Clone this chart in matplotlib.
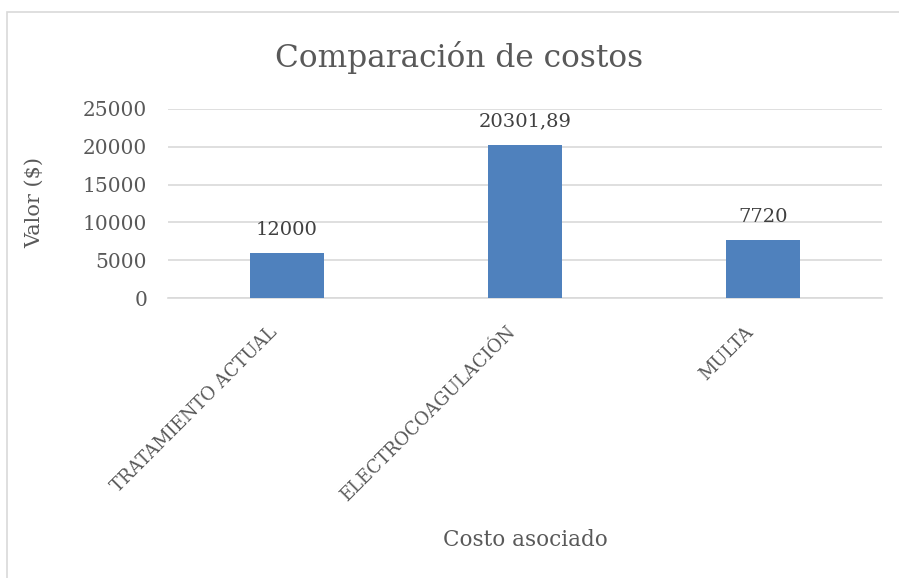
import matplotlib.pyplot as plt
import matplotlib.transforms as mtransforms
from matplotlib.patches import Rectangle

categorias = ['TRATAMIENTO ACTUAL', 'ELECTROCOAGULACIÓN', 'MULTA']
valores = [6000, 20301.89, 7720]
etiquetas = ['12000', '20301,89', '7720']
yticks = [0, 5000, 10000, 15000, 20000, 25000]

plt.rcParams['font.family'] = ['DejaVu Serif']
gris = '#595959'

fig = plt.figure(figsize=(8.99, 5.78), dpi=100)
# borde del área del gráfico
fig.patches.append(Rectangle((7 / 899, -0.1), 1.2, 1.1 - 12.5 / 578,
                             transform=fig.transFigure, fill=False,
                             edgecolor='#D9D9D9', linewidth=1.2))

ax = fig.add_axes([168 / 899, 1 - 298 / 578, 714 / 899, 189 / 578])
x = range(len(categorias))
ax.bar(x, valores, width=0.315, color='#4F81BD', zorder=3)

for xi, v, t in zip(x, valores, etiquetas):
    ax.annotate(t, (xi, v), xytext=(0, 10), textcoords='offset points',
                ha='center', va='bottom', fontsize=14, color='#404040')

ax.set_xlim(-0.5, 2.5)
ax.set_ylim(0, 25000)
ax.set_yticks(yticks)
ax.set_yticklabels([str(v) for v in yticks], fontsize=14.5, color=gris)
ax.set_xticks(list(x))
ax.set_xticklabels(categorias, rotation=45, ha='right', rotation_mode='anchor',
                   fontsize=13, color=gris)
ax.tick_params(axis='y', length=0, pad=15)
ax.tick_params(axis='x', length=0, pad=16)
# desplazar etiquetas rotadas un poco a la izquierda
desplaz = mtransforms.ScaledTranslation(-0.19, -0.03, fig.dpi_scale_trans)
for lbl in ax.get_xticklabels():
    lbl.set_transform(lbl.get_transform() + desplaz)
ax.yaxis.grid(True, color='#D9D9D9', linewidth=1.2, zorder=0)
for s in ['top', 'right', 'left']:
    ax.spines[s].set_visible(False)
ax.spines['bottom'].set_color('#D9D9D9')
ax.spines['bottom'].set_linewidth(1.2)

fig.text(459 / 899, 1 - 58 / 578, 'Comparación de costos', ha='center', va='center',
         fontsize=22.5, color=gris)
fig.text(35 / 899, 1 - 203 / 578, 'Valor ($)', ha='center', va='center',
         rotation=90, fontsize=15, color=gris)
fig.text(525 / 899, 1 - 540 / 578, 'Costo asociado', ha='center', va='center',
         fontsize=15.5, color=gris)

fig.savefig('out.png', dpi=100)
